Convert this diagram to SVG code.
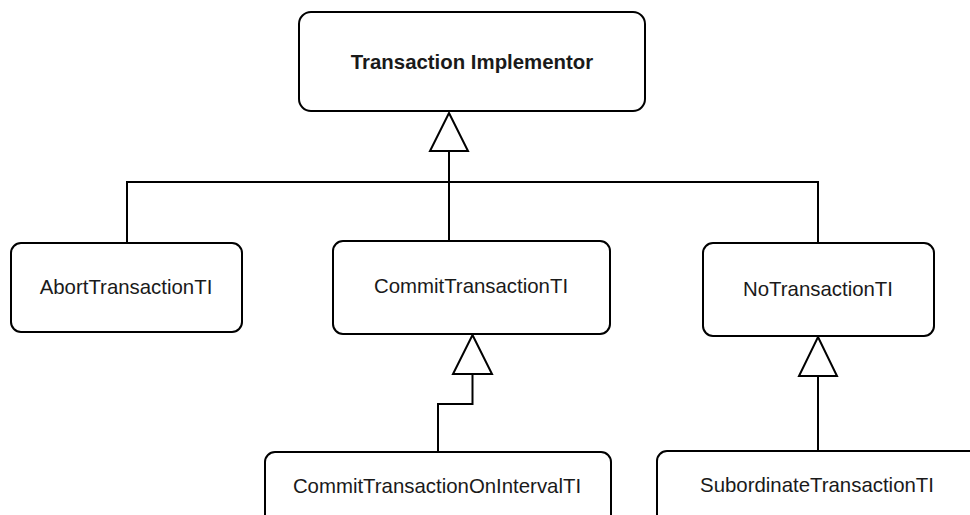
<svg xmlns="http://www.w3.org/2000/svg" width="970" height="515" viewBox="0 0 970 515">
  <style>
    .box { fill: #ffffff; stroke: #000000; stroke-width: 2; }
    .label { font-family: "Liberation Sans", Arial, sans-serif; font-size: 20.4px; fill: #1a1a1a; text-anchor: middle; }
    .title { font-weight: bold; }
    .edge { fill: none; stroke: #000000; stroke-width: 2; }
    .head { fill: #ffffff; stroke: #000000; stroke-width: 2; stroke-linejoin: miter; }
  </style>
  <rect width="970" height="515" fill="#ffffff"/>

  <!-- inheritance connectors -->
  <g id="connectors">
    <path class="edge" d="M449 151 V182 M127 243 V182 H818 V243 M449 182 V241"/>
    <polygon class="head" points="449,113 468,151 430,151"/>
    <path class="edge" d="M472.5 374 V404 H438 V452"/>
    <polygon class="head" points="472.5,335 492,374 453,374"/>
    <path class="edge" d="M818 376 V451"/>
    <polygon class="head" points="818,337 837,376 799,376"/>
  </g>

  <g id="transaction-implementor">
    <rect class="box" x="299" y="12" width="346" height="99" rx="12"/>
    <text class="label title" x="472" y="69">Transaction Implementor</text>
  </g>

  <g id="abort-transaction-ti">
    <rect class="box" x="11" y="243" width="231" height="89" rx="10"/>
    <text class="label" x="126" y="294">AbortTransactionTI</text>
  </g>

  <g id="commit-transaction-ti">
    <rect class="box" x="333" y="241" width="277" height="93" rx="10"/>
    <text class="label" x="471" y="293">CommitTransactionTI</text>
  </g>

  <g id="no-transaction-ti">
    <rect class="box" x="703" y="243" width="231" height="93" rx="10"/>
    <text class="label" x="818" y="296">NoTransactionTI</text>
  </g>

  <g id="commit-transaction-on-interval-ti">
    <rect class="box" x="265" y="452" width="346" height="93" rx="10"/>
    <text class="label" x="437" y="493">CommitTransactionOnIntervalTI</text>
  </g>

  <g id="subordinate-transaction-ti">
    <rect class="box" x="657" y="451" width="330" height="93" rx="10"/>
    <text class="label" x="817" y="492">SubordinateTransactionTI</text>
  </g>
</svg>
